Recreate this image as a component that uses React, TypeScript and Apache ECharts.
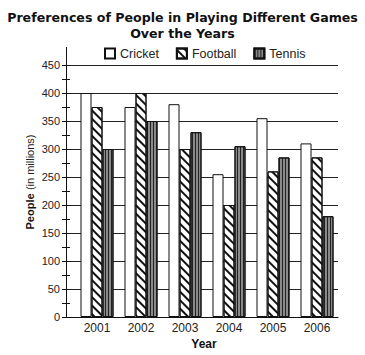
import React, { useEffect, useRef } from "react";
import * as echarts from "echarts";

const years = ["2001", "2002", "2003", "2004", "2005", "2006"];
const cricket = [400, 375, 380, 255, 355, 310];
const football = [375, 400, 300, 200, 260, 285];
const tennis = [300, 350, 330, 305, 285, 180];
const seriesNames = ["Cricket", "Football", "Tennis"];
const yMin = 0;
const yMax = 450;
const yInterval = 50;

export default function App() {
  const ref = useRef<HTMLDivElement>(null);
  useEffect(() => {
    if (!ref.current) return;
    const chart = echarts.init(ref.current, undefined, { renderer: "svg" });
    const font = "Arial";
    const barBase = {
      type: "bar",
      xAxisIndex: 1,
      yAxisIndex: 2,
      barWidth: 11,
      barGap: "0%",
    };
    chart.setOption({
      animation: false,
      backgroundColor: "#fff",
      title: {
        text: "Preferences of People in Playing Different Games\nOver the Years",
        left: "center",
        top: 4,
        textStyle: {
          fontFamily: "DejaVu Sans",
          fontWeight: "bold",
          fontSize: 12.6,
          lineHeight: 16,
          color: "#111",
        },
      },
      legend: {
        left: 99,
        top: 42,
        itemWidth: 10,
        itemHeight: 10,
        itemGap: 17,
        icon: "rect",
        textStyle: { fontFamily: font, fontSize: 12.5, color: "#222" },
        data: seriesNames,
      },
      grid: [
        { left: 66, right: 27, top: 65, bottom: 38 },
        { left: 75, right: 26, top: 65, bottom: 38 },
      ],
      xAxis: [
        {
          gridIndex: 0,
          type: "category",
          data: years,
          axisLine: { show: true, lineStyle: { color: "#111", width: 1 } },
          axisTick: { show: false },
          axisLabel: { show: false },
          splitLine: { show: false },
        },
        {
          gridIndex: 1,
          type: "category",
          data: years,
          axisLine: { show: false },
          axisTick: { show: false },
          axisLabel: { margin: 5, fontFamily: font, fontSize: 12, color: "#222" },
          splitLine: { show: false },
        },
      ],
      yAxis: [
        {
          gridIndex: 0,
          type: "value",
          min: yMin,
          max: yMax,
          interval: yInterval,
          axisLine: { show: true, lineStyle: { color: "#111", width: 1 } },
          axisTick: { show: true, length: 4, lineStyle: { color: "#111" } },
          minorTick: { show: true, splitNumber: 2, length: 4, lineStyle: { color: "#111" } },
          axisLabel: { margin: 6, fontFamily: font, fontSize: 11, color: "#222" },
          splitLine: { show: true, lineStyle: { color: "#222", width: 1 } },
        },
        {
          gridIndex: 0,
          type: "value",
          min: yMin,
          max: yMax,
          interval: yInterval,
          position: "left",
          axisLine: { show: false },
          axisTick: { show: true, inside: true, length: 4, lineStyle: { color: "#111" } },
          minorTick: { show: true, splitNumber: 2, length: 4, lineStyle: { color: "#111" } },
          axisLabel: { show: false },
          splitLine: { show: false },
        },
        {
          gridIndex: 1,
          type: "value",
          min: yMin,
          max: yMax,
          interval: yInterval,
          show: false,
        },
      ],
      graphic: [
        {
          type: "line",
          shape: { x1: 66.5, y1: 47, x2: 66.5, y2: 65 },
          style: { stroke: "#111", lineWidth: 1 },
        },
        {
          type: "text",
          x: 30,
          y: 182,
          rotation: Math.PI / 2,
          style: {
            text: "{b|People} {n|(in millions)}",
            align: "center",
            verticalAlign: "middle",
            rich: {
              b: { fontFamily: font, fontWeight: "bold", fontSize: 11, fill: "#111" },
              n: { fontFamily: font, fontSize: 11, fill: "#222" },
            },
          },
        },
        {
          type: "text",
          x: 204,
          y: 344,
          style: {
            text: "Year",
            align: "center",
            verticalAlign: "middle",
            fontFamily: font,
            fontWeight: "bold",
            fontSize: 12,
            fill: "#111",
          },
        },
      ],
      series: [
        {
          ...barBase,
          name: seriesNames[0],
          data: cricket,
          itemStyle: { color: "#fff", borderColor: "#111", borderWidth: 1 },
        },
        {
          ...barBase,
          name: seriesNames[1],
          data: football,
          itemStyle: {
            color: "#fff",
            borderColor: "#111",
            borderWidth: 1,
            decal: {
              symbol: "rect",
              symbolSize: 1,
              color: "#111",
              dashArrayX: [1, 0],
              dashArrayY: [1.5, 3.2],
              rotation: Math.PI / 4,
            },
          },
        },
        {
          ...barBase,
          name: seriesNames[2],
          data: tennis,
          itemStyle: {
            color: "#8a8a8a",
            borderColor: "#111",
            borderWidth: 1,
            decal: {
              symbol: "rect",
              symbolSize: 1,
              color: "#222",
              dashArrayX: [1, 1.5],
              dashArrayY: [1, 0],
              rotation: 0,
            },
          },
        },
      ],
    });
    return () => chart.dispose();
  }, []);
  return (
    <div
      ref={ref}
      style={{ position: "fixed", left: 0, top: 0, width: 365, height: 355 }}
    />
  );
}
